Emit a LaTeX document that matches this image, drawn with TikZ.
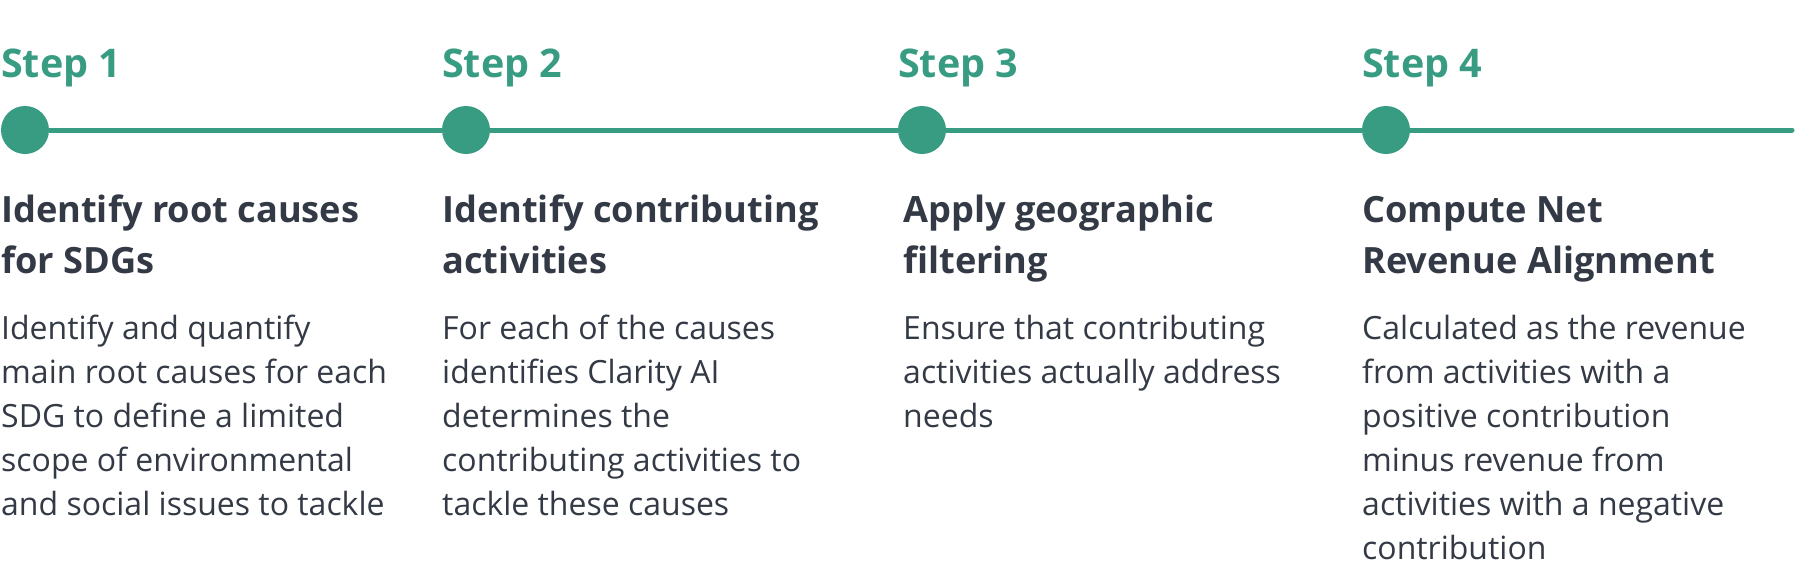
\documentclass[tikz,border=0pt]{standalone}
\usepackage{fontspec}
\setmainfont{Open Sans}
\usetikzlibrary{positioning}
\definecolor{stepgreen}{HTML}{389C82}
\definecolor{textdark}{HTML}{333A45}
\newcommand{\lines}[1]{\parbox[t]{440pt}{\raggedright #1}}

\begin{document}
\begin{tikzpicture}[x=1pt,y=-1pt,
    every node/.style={inner sep=0pt},
    dot/.style={circle,fill=stepgreen,minimum size=48pt},
    steplabel/.style={anchor=base west,text=stepgreen,
        font=\bfseries\fontsize{39.5}{44}\selectfont},
    heading/.style={anchor=base west,text=textdark,
        font=\bfseries\fontsize{36.2}{51}\selectfont},
    bodytext/.style={anchor=base west,text=textdark,
        font=\fontsize{32}{44}\selectfont}]
    \useasboundingbox (0,0) rectangle (1818,576);
    % timeline
    \node[dot] (dot1) at (25,130) {};
    \node[dot] (dot2) at (466,130) {};
    \node[dot] (dot3) at (922,130) {};
    \node[dot] (dot4) at (1386,130) {};
    \coordinate (lineend) at (1792,130);
    \draw[stepgreen, line width=5pt] (dot1) -- (dot2) -- (dot3) -- (dot4);
    \draw[stepgreen, line width=5pt, line cap=round] (dot4) -- (lineend);
    % step labels
    \node[steplabel] (step1) at (1,77) {Step 1};
    \node[steplabel] (step2) at (442,77) {Step 2};
    \node[steplabel] (step3) at (898,77) {Step 3};
    \node[steplabel] (step4) at (1362,77) {Step 4};
    % headings
    \node[heading] (head1) at (1,222) {\lines{Identify root causes\\for SDGs}};
    \node[heading] (head2) at (442,222) {\lines{Identify contributing\\activities}};
    \node[heading] (head3) at (903,222) {\lines{Apply geographic\\filtering}};
    \node[heading] (head4) at (1362,222) {\lines{Compute Net\\Revenue Alignment}};
    % descriptions
    \node[bodytext] (body1) at (1,339) {\lines{Identify and quantify\\main root causes for each\\SDG to define a limited\\scope of environmental\\and social issues to tackle}};
    \node[bodytext] (body2) at (442,339) {\lines{For each of the causes\\identifies Clarity AI\\determines the\\contributing activities to\\tackle these causes}};
    \node[bodytext] (body3) at (903,339) {\lines{Ensure that contributing\\activities actually address\\needs}};
    \node[bodytext] (body4) at (1362,339) {\lines{Calculated as the revenue\\from activities with a\\positive contribution\\minus revenue from\\activities with a negative\\contribution}};
\end{tikzpicture}
\end{document}
